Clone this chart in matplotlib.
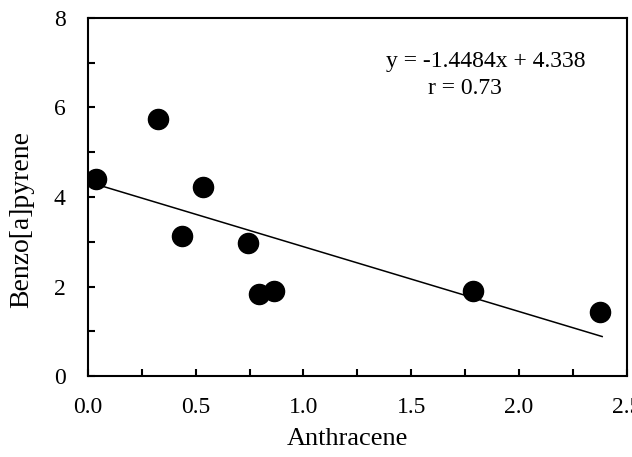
import numpy as np
import matplotlib.pyplot as plt
from matplotlib.ticker import MultipleLocator

# Data
anthracene = [0.037, 0.325, 0.435, 0.532, 0.745, 0.795, 0.862, 1.785, 2.375]
benzo_a_pyrene = [4.40, 5.74, 3.13, 4.22, 2.97, 1.83, 1.90, 1.90, 1.43]
slope = -1.4484
intercept = 4.338

plt.rcParams["font.family"] = ["Liberation Serif", "DejaVu Serif"]

fig = plt.figure(figsize=(6.32, 4.57), dpi=100)
ax = fig.add_axes([0.139, 0.177, 0.853, 0.784])

ax.scatter(anthracene, benzo_a_pyrene, s=210, color="black", zorder=3)

# linear trend line over the data range
xs = np.array([min(anthracene), max(anthracene) + 0.01])
ax.plot(xs, slope * xs + intercept, color="black", linewidth=1.1)

ax.set_xlim(0, 2.5)
ax.set_ylim(0, 8)
ax.xaxis.set_major_locator(MultipleLocator(0.5))
ax.xaxis.set_minor_locator(MultipleLocator(0.25))
ax.yaxis.set_major_locator(MultipleLocator(2))
ax.yaxis.set_minor_locator(MultipleLocator(1))
ax.xaxis.set_major_formatter(plt.FormatStrFormatter("%.1f"))

ax.tick_params(which="both", direction="in", length=5, width=1.5,
               top=False, right=False, labelsize=17)
ax.tick_params(axis="x", pad=15)
ax.tick_params(axis="y", pad=16)
for sp in ax.spines.values():
    sp.set_linewidth(1.5)

ax.set_xlabel("Anthracene", fontsize=19)
ax.set_ylabel("Benzo[a]pyrene", fontsize=20)
ax.xaxis.set_label_coords(0.482, -0.146)
ax.yaxis.set_label_coords(-0.100, 0.436)

ax.text(0.553, 0.877, "y = -1.4484x + 4.338", transform=ax.transAxes,
        ha="left", va="center", fontsize=17)
ax.text(0.631, 0.804, "r = 0.73", transform=ax.transAxes,
        ha="left", va="center", fontsize=17)

fig.savefig("out.png", dpi=100)
